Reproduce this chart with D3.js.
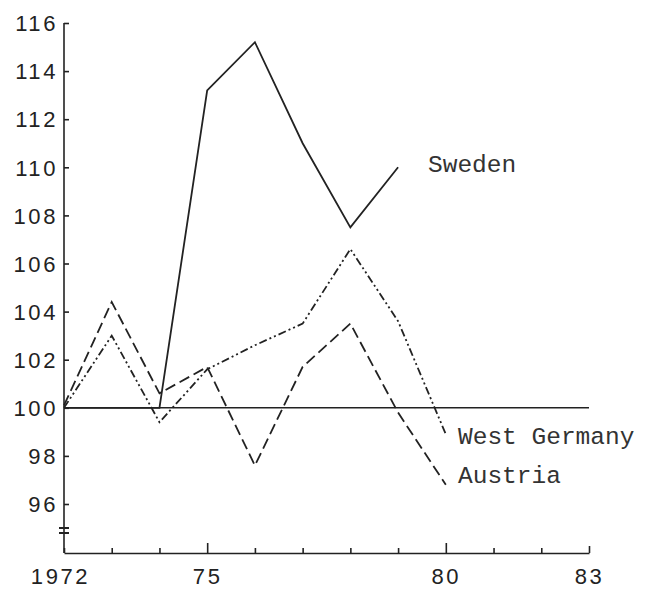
<!doctype html>
<html>
<head>
    <meta charset="UTF-8">
    <title>Sweden, West Germany, Austria 1972-83</title>
    <script src="https://cdn.jsdelivr.net/npm/d3@7"></script>
    <style>
        body { margin: 0; background: #fff; }
        .axis text {
            font-family: "Liberation Sans", Arial, sans-serif;
            font-size: 22px;
            letter-spacing: 2.6px;
            fill: #222;
        }
        .axis line, .axis path { stroke: #222; stroke-width: 1.6; }
        .country {
            font-family: "Liberation Mono", "Courier New", monospace;
            font-size: 24.5px;
            fill: #333;
        }
    </style>
</head>
<body>
<script>

    var years = [1972, 1973, 1974, 1975, 1976, 1977, 1978, 1979, 1980];
    var sweden = [100, 100, 100, 113.2, 115.2, 111.0, 107.5, 110.0, null];
    var westGermany = [100, 103.0, 99.4, 101.6, 102.6, 103.5, 106.6, 103.6, 98.9];
    var austria = [100.1, 104.4, 100.6, 101.7, 97.6, 101.7, 103.5, 99.8, 96.8];

    var yTicks = [96, 98, 100, 102, 104, 106, 108, 110, 112, 114, 116];
    var xTicks = [1972, 1973, 1974, 1975, 1976, 1977, 1978, 1979, 1980, 1981, 1982, 1983];
    var xLabels = { 1972: "1972", 1975: "75", 1980: "80", 1983: "83" };

    var width = 647, height = 591;

    var svg = d3.select("body")
        .append("svg")
        .attr("width", width)
        .attr("height", height);

    var x = d3.scaleLinear()
        .domain([1972, 1983])
        .range([64, 589]);

    var y = d3.scaleLinear()
        .domain([96, 116])
        .range([504, 23]);

    var axisY = 553;

    // y axis
    var yAxis = svg.append("g")
        .attr("class", "axis")
        .attr("transform", "translate(" + x(1972) + ",0)")
        .call(d3.axisLeft(y)
            .tickValues(yTicks)
            .tickSizeInner(-5)
            .tickSizeOuter(0)
            .tickPadding(6));
    yAxis.select(".domain").remove();
    yAxis.selectAll("text").attr("dy", "0.35em");

    svg.append("line")
        .attr("x1", x(1972)).attr("x2", x(1972))
        .attr("y1", y(116)).attr("y2", axisY)
        .style("stroke", "#222").style("stroke-width", 1.6);

    // axis break marks
    var breaks = [528, 533];
    breaks.forEach(function (b) {
        svg.append("line")
            .attr("x1", x(1972) - 5).attr("x2", x(1972) + 5)
            .attr("y1", b).attr("y2", b)
            .style("stroke", "#222").style("stroke-width", 2);
    });

    // x axis
    var xAxis = svg.append("g")
        .attr("class", "axis")
        .attr("transform", "translate(0," + axisY + ")")
        .call(d3.axisBottom(x)
            .tickValues(xTicks)
            .tickSizeInner(-5)
            .tickSizeOuter(0)
            .tickPadding(15)
            .tickFormat(function (d) { return xLabels[d] || ""; }));

    xAxis.selectAll(".tick line")
        .attr("y2", function (d) { return (d === 1975 || d === 1980) ? -10 : (d === 1983 ? -7 : -5); });
    xAxis.selectAll(".tick").filter(function (d) { return d === 1972; })
        .select("text").attr("dx", "-4px");

    // 100 reference line
    svg.append("line")
        .attr("x1", x(1972)).attr("x2", x(1983))
        .attr("y1", y(100)).attr("y2", y(100))
        .style("stroke", "#222").style("stroke-width", 1.5);

    var line = d3.line()
        .defined(function (d) { return d[1] !== null; })
        .x(function (d) { return x(d[0]); })
        .y(function (d) { return y(d[1]); });

    var series = [
        { values: sweden, dash: null },
        { values: westGermany, dash: "8,3,2,3,2,3" },
        { values: austria, dash: "11,5" }
    ];

    series.forEach(function (s) {
        svg.append("path")
            .datum(years.map(function (yr, i) { return [yr, s.values[i]]; }))
            .attr("d", line)
            .style("fill", "none")
            .style("stroke", "#222")
            .style("stroke-width", 1.8)
            .style("stroke-dasharray", s.dash);
    });

    // labels
    svg.append("text").attr("class", "country")
        .attr("x", 428).attr("y", 172).text("Sweden");
    svg.append("text").attr("class", "country")
        .attr("x", 458).attr("y", 444).text("West Germany");
    svg.append("text").attr("class", "country")
        .attr("x", 458).attr("y", 483).text("Austria");

</script>
</body>
</html>
